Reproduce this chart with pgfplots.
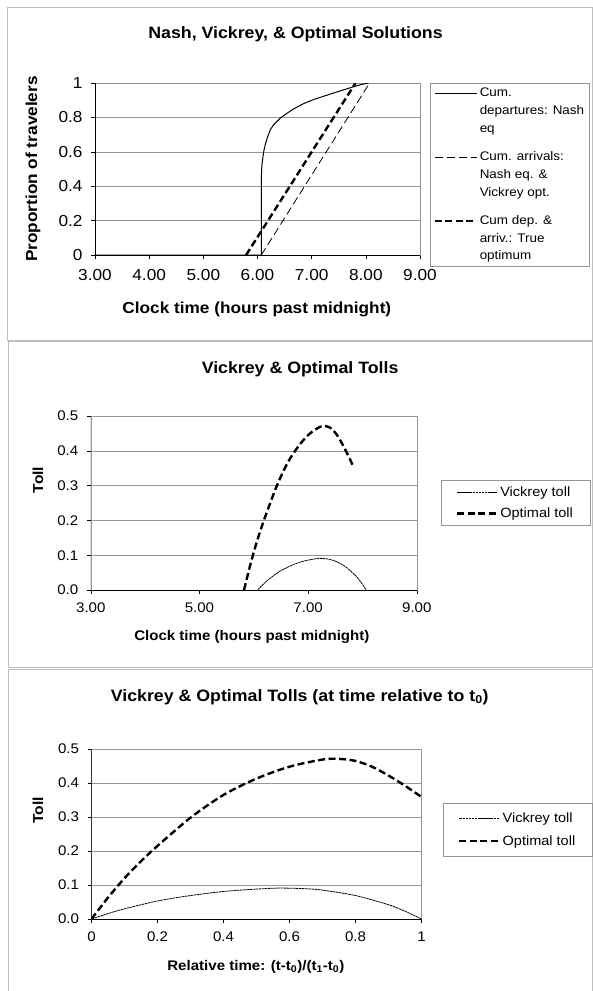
\documentclass[border=0pt]{standalone}
\usepackage{fontspec}
\setmainfont{Liberation Sans}[FakeStretch=1.08]
\usepackage{pgfplots}
\pgfplotsset{compat=1.18}

\definecolor{gridgray}{RGB}{150,150,150}
\definecolor{framegray}{RGB}{190,190,190}

\pgfplotsset{
  base/.style={
    scale only axis,
    tick align=outside,
    tick pos=left,
    major tick length=4bp,
    tick style={black, line width=0.6bp},
    axis line style={gridgray, line width=0.6bp},
    ymajorgrids,
    grid style={gridgray, line width=0.6bp},
    legend style={draw=gridgray, line width=0.6bp, fill=white},
    legend cell align=left,
    title style={font=\bfseries\fontsize{16.5}{19}\selectfont, anchor=center},
    xlabel style={anchor=center},
    ylabel style={anchor=center},
  },
  nash/.style={black, line width=1bp},
  arr/.style={black, line width=0.8bp, dash pattern=on 8bp off 4bp},
  opt/.style={black, line width=2.4bp, dash pattern=on 7bp off 3.5bp},
  vick/.style={black, line width=0.8bp, dash pattern=on 2.5bp off 0.6bp},
}

\begin{document}
\begin{tikzpicture}
\useasboundingbox (0,0) rectangle (593bp,-991bp);
% panel frames
\draw[framegray, line width=1bp] (7bp,-7bp) rectangle (592.5bp,-340bp);
\draw[framegray, line width=1bp] (8bp,-341.5bp) rectangle (592.5bp,-667bp);
\draw[framegray, line width=1bp] (8bp,-995bp) -- (8bp,-669.5bp) -- (592.5bp,-669.5bp) -- (592.5bp,-995bp);

% ---------------- Panel 1 ----------------
\begin{axis}[base,
  at={(95bp,-255bp)}, anchor=south west,
  width=325bp, height=172bp,
  xmin=3, xmax=9, ymin=0, ymax=1,
  xtick={3,4,5,6,7,8,9},
  xticklabels={3.00,4.00,5.00,6.00,7.00,8.00,9.00},
  ytick={0,0.2,0.4,0.6,0.8,1},
  yticklabels={0,0.2,0.4,0.6,0.8,1},
  ticklabel style={font=\fontsize{16}{19}\selectfont},
  xticklabel style={yshift=-7bp},
  yticklabel style={xshift=-5bp},
  title={Nash, Vickrey, \& Optimal Solutions},
  title style={at={(axis description cs:0.617,1.25)}},
  xlabel={Clock time (hours past midnight)},
  xlabel style={font=\bfseries\fontsize{16}{19}\selectfont, at={(axis description cs:0.498,-0.314)}},
  ylabel={Proportion of travelers},
  ylabel style={font=\bfseries\fontsize{16}{19}\selectfont, at={(axis description cs:-0.191,0.5)}},
  legend style={at={(1.031,1)}, anchor=north west,
    font=\fontsize{12.5}{17.7}\selectfont, cells={align=left},
    row sep=14bp, inner xsep=3bp, inner ysep=3bp},
  legend image code/.code={\path (0bp,-17.7bp) (0bp,17.7bp); \draw[#1] (0bp,17.7bp) -- (42bp,17.7bp);},
]
\addplot[nash] coordinates {
 (3,0) (6.07,0) (6.07,0.44) (6.08,0.52) (6.1,0.57) (6.12,0.61) (6.15,0.65)
 (6.19,0.69) (6.24,0.73) (6.3,0.758) (6.42,0.796) (6.55,0.825) (6.67,0.85)
 (6.85,0.88) (7.03,0.903) (7.25,0.926) (7.47,0.948) (7.65,0.966) (7.77,0.978)
 (7.9,0.99) (8.05,1)};
\addlegendentry{Cum.\\departures: Nash\\eq}
\addplot[arr] coordinates {(6.07,0) (8.07,1)};
\addlegendentry{Cum. arrivals:\\Nash eq. \&\\Vickrey opt.}
\addplot[opt] coordinates {(5.79,0) (7.81,1)};
\addlegendentry{Cum dep. \&\\arriv.: True\\optimum}
\draw[black, line width=0.8bp] (rel axis cs:0,1) -- (rel axis cs:0,0) -- (rel axis cs:1,0);
\end{axis}

% ---------------- Panel 2 ----------------
\begin{axis}[base,
  at={(90.8bp,-590bp)}, anchor=south west,
  width=326bp, height=174bp,
  xmin=3, xmax=9, ymin=0, ymax=0.5,
  xtick={3,5,7,9},
  xticklabels={3.00,5.00,7.00,9.00},
  ytick={0,0.1,0.2,0.3,0.4,0.5},
  yticklabels={0.0,0.1,0.2,0.3,0.4,0.5},
  ticklabel style={font=\fontsize{14}{17}\selectfont},
  xticklabel style={yshift=-5bp},
  yticklabel style={xshift=-5bp},
  title={Vickrey \& Optimal Tolls},
  title style={at={(axis description cs:0.642,1.236)}},
  xlabel={Clock time (hours past midnight)},
  xlabel style={font=\bfseries\fontsize{14}{17}\selectfont, at={(axis description cs:0.494,-0.270)}},
  ylabel={Toll},
  ylabel style={font=\bfseries\fontsize{14.5}{17}\selectfont, at={(axis description cs:-0.162,0.632)}},
  legend style={at={(1.073,0.5)}, anchor=west,
    font=\fontsize{13.5}{15}\selectfont,
    row sep=6bp, inner xsep=15bp, inner ysep=4bp,
    /tikz/every even column/.append style={column sep=5bp}},
  legend image code/.code={\draw[#1] (0bp,0bp) -- (40bp,0bp);},
]
\addplot[vick, smooth, tension=0.5] coordinates {
 (6.07,0) (6.17,0.016) (6.27,0.03) (6.47,0.053) (6.67,0.069) (6.87,0.081)
 (7.07,0.088) (7.21,0.091) (7.37,0.089) (7.47,0.085) (7.67,0.069)
 (7.87,0.042) (7.97,0.023) (8.07,0)};
\addlegendentry{Vickrey toll}
\addplot[opt, smooth, tension=0.5] coordinates {
 (5.82,0) (5.92,0.063) (6.02,0.12) (6.12,0.17) (6.22,0.215) (6.42,0.298)
 (6.62,0.365) (6.82,0.413) (7.02,0.448) (7.22,0.469) (7.32,0.471)
 (7.42,0.465) (7.52,0.448) (7.62,0.422) (7.72,0.392) (7.82,0.359)};
\addlegendentry{Optimal toll}
\draw[black, line width=0.8bp] (rel axis cs:0,1) -- (rel axis cs:0,0) -- (rel axis cs:1,0);
\end{axis}

% ---------------- Panel 3 ----------------
\begin{axis}[base,
  at={(91.5bp,-919bp)}, anchor=south west,
  width=330bp, height=170bp,
  xmin=0, xmax=1, ymin=0, ymax=0.5,
  xtick={0,0.2,0.4,0.6,0.8,1},
  xticklabels={0,0.2,0.4,0.6,0.8,1},
  ytick={0,0.1,0.2,0.3,0.4,0.5},
  yticklabels={0.0,0.1,0.2,0.3,0.4,0.5},
  ticklabel style={font=\fontsize{14}{17}\selectfont},
  xticklabel style={yshift=-5bp},
  yticklabel style={xshift=-5bp},
  title={Vickrey \& Optimal Tolls (at time relative to t\textsubscript{0})},
  title style={at={(axis description cs:0.631,1.27)}},
  xlabel={Relative time: (t-t\textsubscript{0})/(t\textsubscript{1}-t\textsubscript{0})},
  xlabel style={font=\bfseries\fontsize{14}{17}\selectfont, at={(axis description cs:0.498,-0.282)}},
  ylabel={Toll},
  ylabel style={font=\bfseries\fontsize{14.5}{17}\selectfont, at={(axis description cs:-0.162,0.638)}},
  legend style={at={(1.065,0.526)}, anchor=west,
    font=\fontsize{13.5}{15}\selectfont,
    row sep=8bp, inner xsep=15bp, inner ysep=7bp,
    /tikz/every even column/.append style={column sep=5bp}},
  legend image code/.code={\draw[#1] (0bp,0bp) -- (40bp,0bp);},
]
\addplot[vick, smooth, tension=0.5] coordinates {
 (0,0) (0.05,0.016) (0.1,0.03) (0.2,0.053) (0.3,0.069) (0.4,0.081)
 (0.5,0.088) (0.57,0.091) (0.65,0.089) (0.7,0.085) (0.8,0.069)
 (0.9,0.042) (0.95,0.023) (1,0)};
\addlegendentry{Vickrey toll}
\addplot[opt, smooth, tension=0.5] coordinates {
 (0,0) (0.05,0.063) (0.1,0.12) (0.15,0.17) (0.2,0.215) (0.3,0.298)
 (0.4,0.365) (0.5,0.413) (0.6,0.448) (0.7,0.469) (0.75,0.471)
 (0.8,0.465) (0.85,0.448) (0.9,0.422) (0.95,0.392) (1,0.359)};
\addlegendentry{Optimal toll}
\draw[black, line width=0.8bp] (rel axis cs:0,1) -- (rel axis cs:0,0) -- (rel axis cs:1,0);
\end{axis}
\end{tikzpicture}
\end{document}
